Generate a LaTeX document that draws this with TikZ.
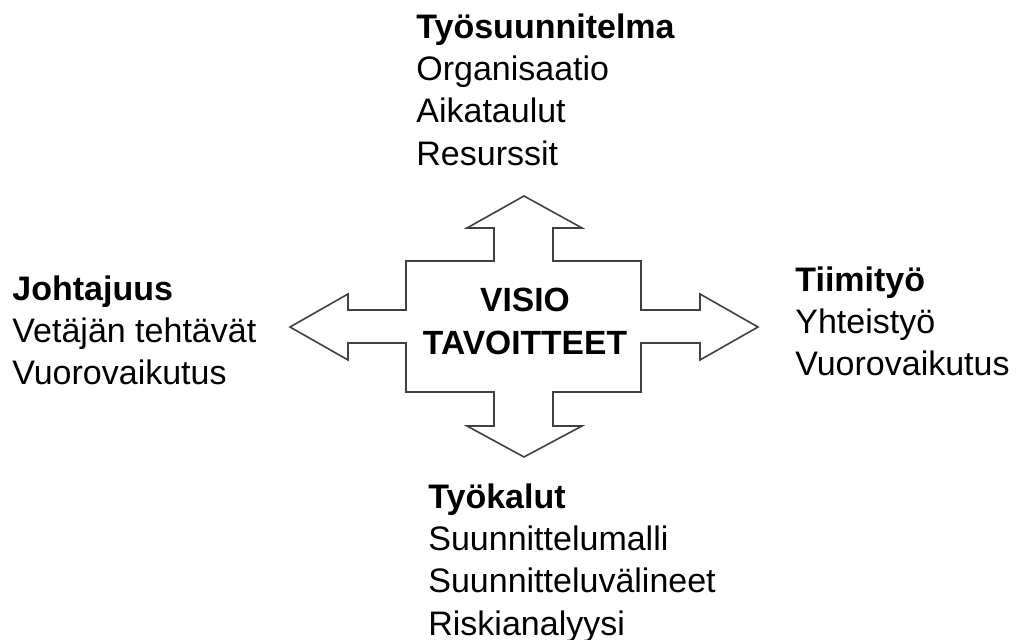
\documentclass[tikz,border=0pt]{standalone}
\usepackage{fontspec}
\setmainfont{Liberation Sans}
\begin{document}
\begin{tikzpicture}[x=0.5pt,y=-0.5pt,
    grp/.style={anchor=north west,inner sep=0pt,align=left,font=\fontsize{17}{21.2}\selectfont},
    hub/.style={anchor=north,inner sep=0pt,align=center,font=\fontsize{16.8}{21.5}\selectfont\bfseries}]
    \useasboundingbox (0,0) rectangle (1024,640);
    % four-way arrow round the centre
    \draw[line width=0.8pt,black!75,line join=miter]
        (524,196) -- (582,228) -- (553,228) -- (553,261) -- (641,261) -- (641,310)
        -- (700,310) -- (700,294) -- (758,327) -- (700,360) -- (700,343) -- (641,343)
        -- (641,392) -- (553,392) -- (553,426) -- (582,426) -- (524,457) -- (467,426)
        -- (494,426) -- (494,392) -- (406,392) -- (406,343) -- (348,343) -- (348,360)
        -- (290,327) -- (348,294) -- (348,310) -- (406,310) -- (406,261) -- (494,261)
        -- (494,228) -- (467,228) -- cycle;
    \node[hub] (visio) at (525,288) {VISIO\\TAVOITTEET};
    % the four groups
    \node[grp] (tyosuunnitelma) at (416,13) {\textbf{Työsuunnitelma}\\Organisaatio\\Aikataulut\\Resurssit};
    \node[grp] (johtajuus) at (12,275) {\textbf{Johtajuus}\\Vetäjän tehtävät\\Vuorovaikutus};
    \node[grp] (tiimityo) at (795,266) {\textbf{Tiimityö}\\Yhteistyö\\Vuorovaikutus};
    \node[grp] (tyokalut) at (428,483) {\textbf{Työkalut}\\Suunnittelumalli\\Suunnitteluvälineet\\Riskianalyysi};
\end{tikzpicture}
\end{document}
